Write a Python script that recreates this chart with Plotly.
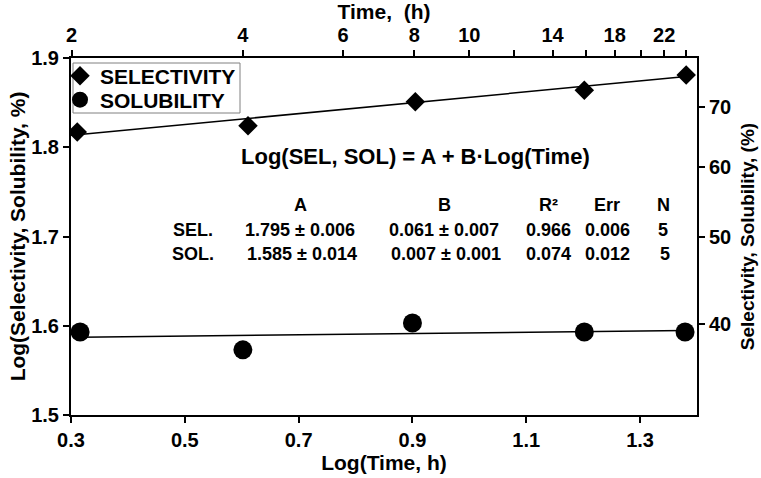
import numpy as np
import plotly.graph_objects as go

# ---- data ----
log_time_sel = [0.311, 0.611, 0.905, 1.202, 1.381]
log_sel = [1.817, 1.824, 1.851, 1.864, 1.881]
log_time_sol = [0.316, 0.602, 0.900, 1.202, 1.379]
log_sol = [1.593, 1.573, 1.603, 1.593, 1.593]

fit_A = {"SEL": 1.795, "SOL": 1.585}
fit_B = {"SEL": 0.061, "SOL": 0.007}

bottom_ticks = [0.3, 0.5, 0.7, 0.9, 1.1, 1.3]
left_ticks = [1.5, 1.6, 1.7, 1.8, 1.9]
top_time_ticks = [2, 4, 6, 8, 10, 12, 14, 16, 18, 20, 22, 24]
top_time_labels = ["2", "4", "6", "8", "10", "", "14", "", "18", "", "22", ""]
right_pct_ticks = [40, 50, 60, 70]

table_header = ["A", "B", "R²", "Err", "N"]
table_rows = [
    ["SEL.", "1.795 ± 0.006", "0.061 ± 0.007", "0.966", "0.006", "5"],
    ["SOL.", "1.585 ± 0.014", "0.007 ± 0.001", "0.074", "0.012", "5"],
]

# ---- layout geometry ----
W, H = 761, 478
L, R, T, B = 71, 64, 58, 63
pw, ph = W - L - R, H - T - B

def px(x):
    return (x - L) / pw

def py(y):
    return 1 - (y - T) / ph

FONT = "Liberation Sans, Arial, sans-serif"

fig = go.Figure()

fig.add_trace(go.Scatter(
    x=log_time_sel, y=log_sel, mode="markers", name="SELECTIVITY",
    marker=dict(symbol="diamond", size=15, color="black"), legend="legend",
))
fig.add_trace(go.Scatter(
    x=log_time_sol, y=log_sol, mode="markers", name="SOLUBILITY",
    marker=dict(symbol="circle", size=19, color="black"), legend="legend2",
))

# fit lines; the second one is drawn on the (identical-range) secondary axes
for key, xs, xa, ya in (("SEL", log_time_sel, "x", "y"), ("SOL", log_time_sol, "x2", "y2")):
    xr = np.array([min(xs), max(xs)])
    fig.add_trace(go.Scatter(
        x=xr, y=fit_A[key] + fit_B[key] * xr, mode="lines", xaxis=xa, yaxis=ya,
        line=dict(color="black", width=1.5), showlegend=False, hoverinfo="skip",
    ))

axis_common = dict(
    showline=True, linewidth=2, linecolor="black", ticks="outside",
    ticklen=6, tickwidth=2, tickcolor="black", showgrid=False, zeroline=False,
    automargin=False,
    tickfont=dict(size=20, color="black", family=FONT, weight="bold"),
)

legend_common = dict(xanchor="left", yanchor="middle", borderwidth=0,
                     bgcolor="rgba(0,0,0,0)", itemwidth=30,
                     font=dict(size=21, family=FONT, weight="bold"))

fig.update_layout(
    width=W, height=H,
    margin=dict(l=L, r=R, t=T, b=B),
    plot_bgcolor="white", paper_bgcolor="white",
    font=dict(family=FONT, color="black", weight="bold"),
    xaxis=dict(range=[0.3, 1.4], tickvals=bottom_ticks,
               ticktext=[f"{v:.1f}" for v in bottom_ticks],
               title=dict(text="Log(Time, h)", standoff=2,
                          font=dict(size=21, family=FONT, weight="bold")),
               **axis_common),
    yaxis=dict(range=[1.5, 1.9], tickvals=left_ticks,
               ticktext=[f"{v:.1f}" for v in left_ticks],
               title=dict(text="Log(Selectivity, Solubility, %)", standoff=0,
                          font=dict(size=21, family=FONT, weight="bold")),
               **axis_common),
    xaxis2=dict(range=[0.3, 1.4], overlaying="x", side="top", anchor="y",
                tickvals=np.log10(top_time_ticks).tolist(), ticktext=top_time_labels,
                title=dict(text="Time,  (h)", standoff=2,
                           font=dict(size=21, family=FONT, weight="bold")),
                **axis_common),
    yaxis2=dict(range=[1.5, 1.9], overlaying="y", side="right", anchor="x",
                tickvals=np.log10(right_pct_ticks).tolist(),
                ticktext=[str(v) for v in right_pct_ticks],
                title=dict(text="Selectivity, Solubility, (%)", standoff=10,
                           font=dict(size=19, family=FONT, weight="bold")),
                **axis_common),
    legend=dict(x=px(60), y=py(76), **legend_common),
    legend2=dict(x=px(60), y=py(100), **legend_common),
    showlegend=True,
    shapes=[dict(type="rect", xref="paper", yref="paper",
                 x0=px(73), x1=px(240), y0=py(113), y1=py(63),
                 line=dict(color="#808080", width=1), layer="below")],
)

ann = []
ann.append(dict(x=px(415), y=py(156), text="Log(SEL, SOL) = A + B·Log(Time)",
                font=dict(size=22)))
col_x = [193, 300, 444, 548, 607, 663]
for j, h in enumerate(table_header):
    ann.append(dict(x=px(col_x[j + 1]), y=py(205), text=h, font=dict(size=18)))
for i, row in enumerate(table_rows):
    yy = 230 + 24 * i
    for j, cell in enumerate(row):
        ann.append(dict(x=px(col_x[j] + (2 if i == 1 and j in (1, 2, 5) else 0)),
                        y=py(yy), text=cell, font=dict(size=18)))
for a in ann:
    a.update(xref="paper", yref="paper", showarrow=False,
             xanchor="center", yanchor="middle")
    a["font"].update(family=FONT, color="black", weight="bold")
fig.update_layout(annotations=ann)

fig.write_html("out.html", config={"displayModeBar": False},
               post_script="document.body.style.margin='0px';")
